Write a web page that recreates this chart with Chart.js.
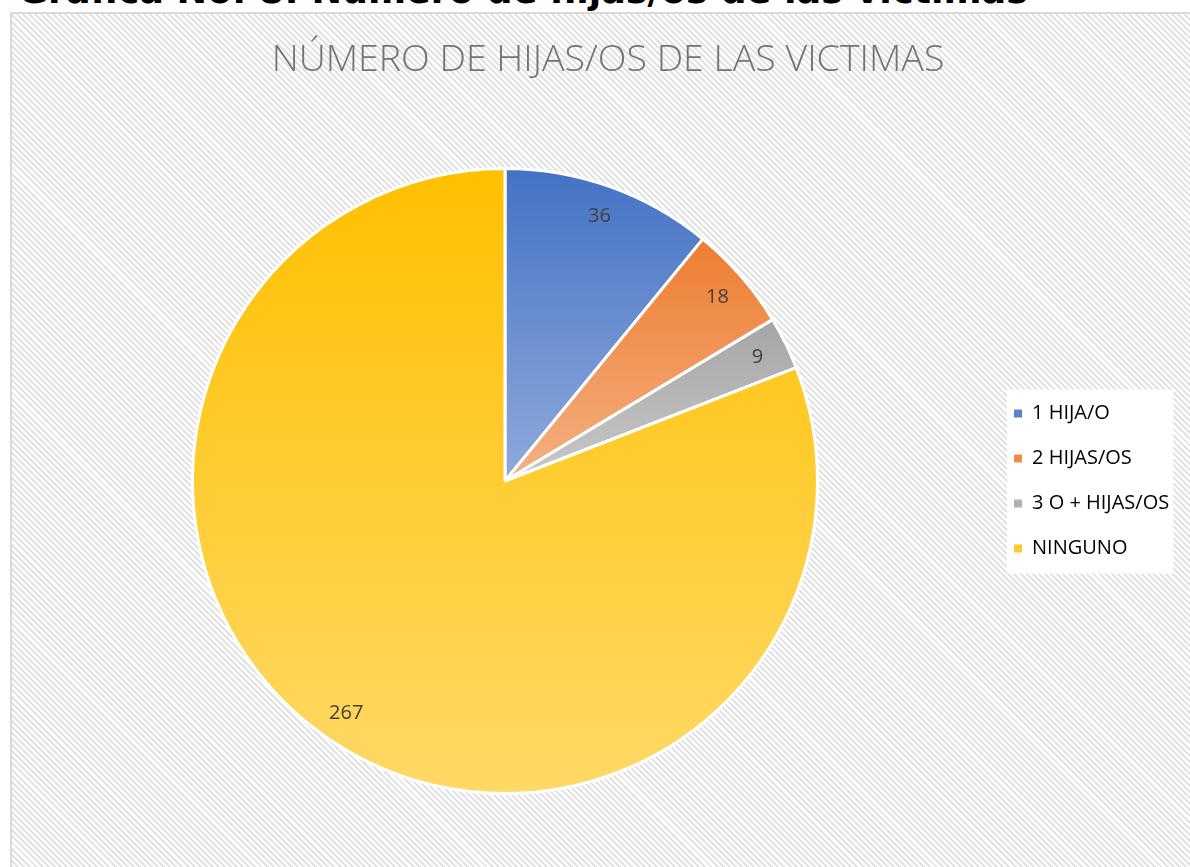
<!DOCTYPE html>
<html>
<head>
<meta charset="utf-8">
<script src="https://cdn.jsdelivr.net/npm/chart.js@4/dist/chart.umd.min.js"></script>
<style>
  html, body { margin: 0; padding: 0; background: #fff; overflow: hidden; width: 1190px; height: 867px; }
  .heading {
    position: absolute; left: 18px; top: -27px; white-space: nowrap;
    font-family: "DejaVu Sans", sans-serif; font-weight: bold; font-size: 36.5px; line-height: 36px; color: #000;
  }
  .frame {
    position: absolute; left: 10px; top: 12px; width: 1192px; height: 900px;
    border: 2px solid #d9d9d9;
    background: repeating-linear-gradient(45deg, #ffffff 0 2.2px, #e3e3e3 2.2px 4.3px);
  }
  canvas { display: block; }
</style>
</head>
<body>
<div class="heading">Gráfica No. 8: Número de hijas/os de las víctimas</div>
<div class="frame">
  <canvas id="chart" width="1192" height="800"></canvas>
</div>
<script>
const labels = ['1 HIJA/O', '2 HIJAS/OS', '3 O + HIJAS/OS', 'NINGUNO'];
const values = [36, 18, 9, 267];
const topColors = ['#4472c4', '#ed7d31', '#a5a5a5', '#ffc000'];
const bottomColors = ['#8faadc', '#f4b183', '#c9c9c9', '#ffd966'];
const legendColors = ['#5b83cc', '#f08c4d', '#b0b0b0', '#ffc82a'];

const BORDER = 3;
const LEGEND_WIDTH = 206;

// vertical gradient over the bounding box of each slice
function sliceFill(context) {
    const chart = context.chart;
    const area = chart.chartArea;
    const i = context.dataIndex;
    if (!area) return topColors[i];
    const cx = (area.left + area.right) / 2;
    const cy = (area.top + area.bottom) / 2;
    const r = (Math.min(area.width, area.height) - BORDER) / 2;
    const total = values.reduce((a, b) => a + b, 0);
    let a0 = -Math.PI / 2;
    for (let k = 0; k < i; k++) a0 += values[k] / total * Math.PI * 2;
    const a1 = a0 + values[i] / total * Math.PI * 2;
    const ys = [cy, cy + r * Math.sin(a0), cy + r * Math.sin(a1)];
    const has = (a) => {
        for (let t = a - 4 * Math.PI; t <= a + 4 * Math.PI; t += 2 * Math.PI) {
            if (t >= a0 && t <= a1) return true;
        }
        return false;
    };
    if (has(-Math.PI / 2)) ys.push(cy - r);
    if (has(Math.PI / 2)) ys.push(cy + r);
    const g = chart.ctx.createLinearGradient(0, Math.min(...ys), 0, Math.max(...ys));
    g.addColorStop(0, topColors[i]);
    g.addColorStop(1, bottomColors[i]);
    return g;
}

const legendBackground = {
    id: 'legendBackground',
    beforeDraw(chart) {
        const lg = chart.legend;
        if (!lg || !lg.legendHitBoxes || !lg.legendHitBoxes.length) return;
        const boxes = lg.legendHitBoxes;
        const x0 = Math.min(...boxes.map(b => b.left)) - 7;
        const x1 = Math.max(...boxes.map(b => b.left + b.width)) + 4;
        const y0 = Math.min(...boxes.map(b => b.top)) - 14;
        const y1 = Math.max(...boxes.map(b => b.top + b.height)) + 15;
        const ctx = chart.ctx;
        ctx.save();
        ctx.fillStyle = '#ffffff';
        ctx.fillRect(x0, y0, x1 - x0, y1 - y0);
        ctx.restore();
    }
};

const sliceLabels = {
    id: 'sliceLabels',
    afterDatasetsDraw(chart) {
        const ctx = chart.ctx;
        const meta = chart.getDatasetMeta(0);
        ctx.save();
        ctx.font = '20px "Open Sans", sans-serif';
        ctx.fillStyle = '#404040';
        ctx.textAlign = 'center';
        ctx.textBaseline = 'middle';
        meta.data.forEach((arc, i) => {
            const p = arc.getProps(['x', 'y', 'startAngle', 'endAngle', 'outerRadius'], true);
            const mid = (p.startAngle + p.endAngle) / 2;
            const rr = p.outerRadius * 0.9;
            ctx.fillText(String(values[i]), p.x + Math.cos(mid) * rr, p.y + Math.sin(mid) * rr);
        });
        ctx.restore();
    }
};

const ctx = document.getElementById('chart').getContext('2d');

const myChart = new Chart(ctx, {
    type: 'pie',
    data: {
        labels: labels,
        datasets: [{
            data: values,
            backgroundColor: sliceFill,
            borderColor: '#ffffff',
            borderWidth: BORDER
        }]
    },
    options: {
        responsive: false,
        animation: false,
        layout: { padding: { left: 9, right: 9, top: 0, bottom: 19 } },
        plugins: {
            title: {
                display: true,
                text: 'NÚMERO DE HIJAS/OS DE LAS VICTIMAS',
                color: '#737373',
                font: { family: '"Open Sans", sans-serif', size: 37.5, weight: '300', lineHeight: 1.2 },
                padding: { top: 24, bottom: 84 }
            },
            legend: {
                position: 'right',
                fullSize: false,
                labels: {
                    boxWidth: 8,
                    boxHeight: 8,
                    padding: 25,
                    color: '#595959',
                    font: { family: '"Open Sans", sans-serif', size: 20 },
                    generateLabels: () => labels.map((t, i) => ({
                        text: t,
                        fillStyle: legendColors[i],
                        strokeStyle: legendColors[i],
                        lineWidth: 0,
                        index: i,
                        hidden: false
                    }))
                }
            },
            tooltip: { enabled: false }
        }
    },
    plugins: [legendBackground, sliceLabels]
});

// fixed legend width so the pie and the title sit where the reference has them
const legendFit = myChart.legend.fit;
myChart.legend.fit = function () {
    legendFit.call(this);
    this.width = LEGEND_WIDTH;
};
myChart.update();
</script>
</body>
</html>
